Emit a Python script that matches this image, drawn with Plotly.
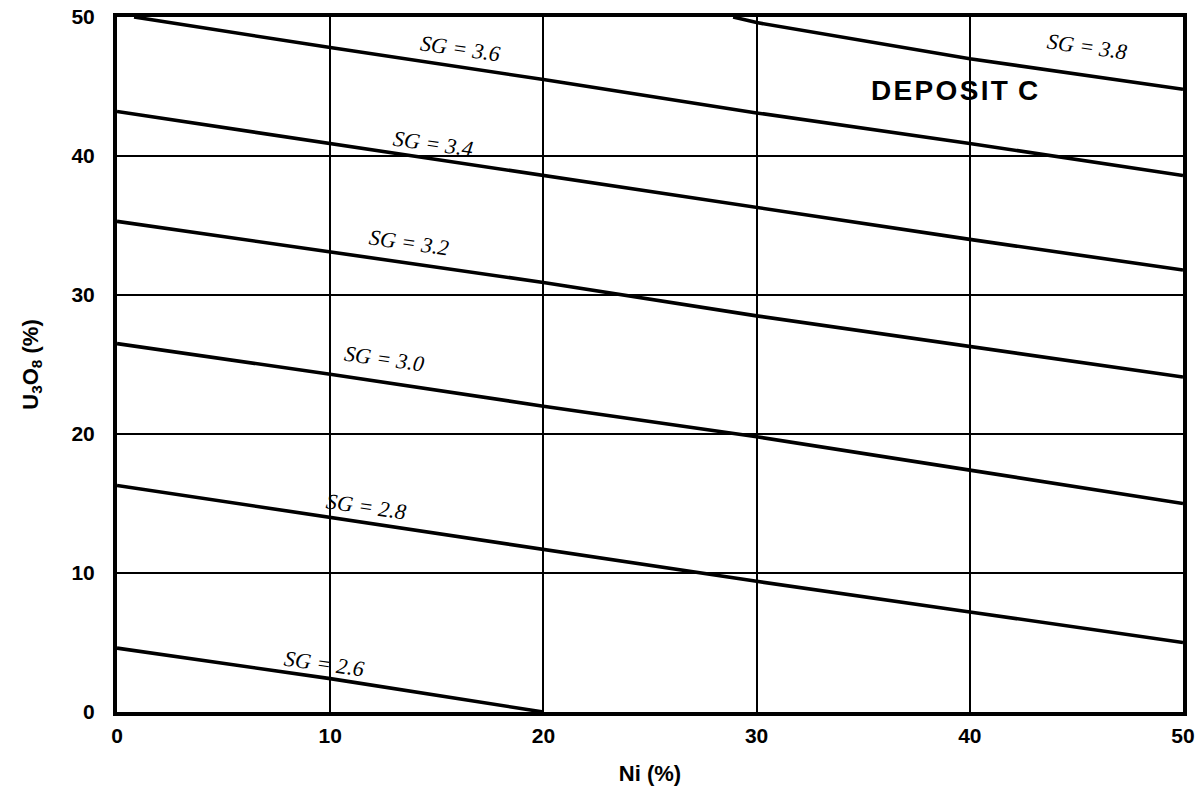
import plotly.graph_objects as go

# Data (Ni % vs U3O8 % for constant specific gravity)
sg_26_x = [0, 10, 20]
sg_26_y = [4.6, 2.4, 0.0]

sg_28_x = [0, 10, 20, 30, 40, 50]
sg_28_y = [16.3, 14.0, 11.7, 9.4, 7.2, 5.0]

sg_30_x = [0, 10, 20, 30, 40, 50]
sg_30_y = [26.5, 24.3, 22.0, 19.8, 17.4, 15.0]

sg_32_x = [0, 10, 20, 30, 40, 50]
sg_32_y = [35.3, 33.1, 30.9, 28.5, 26.3, 24.1]

sg_34_x = [0, 10, 20, 30, 40, 50]
sg_34_y = [43.2, 40.9, 38.6, 36.3, 34.0, 31.8]

sg_36_x = [0.8, 10, 20, 30, 40, 50]
sg_36_y = [50.0, 47.8, 45.5, 43.1, 40.9, 38.6]

sg_38_x = [28.9, 30, 40, 50]
sg_38_y = [50.0, 49.6, 47.0, 44.8]

series = [
    ("SG = 2.6", sg_26_x, sg_26_y),
    ("SG = 2.8", sg_28_x, sg_28_y),
    ("SG = 3.0", sg_30_x, sg_30_y),
    ("SG = 3.2", sg_32_x, sg_32_y),
    ("SG = 3.4", sg_34_x, sg_34_y),
    ("SG = 3.6", sg_36_x, sg_36_y),
    ("SG = 3.8", sg_38_x, sg_38_y),
]

# Label anchor positions (data coords)
label_text = ["SG = 2.6", "SG = 2.8", "SG = 3.0", "SG = 3.2", "SG = 3.4", "SG = 3.6", "SG = 3.8"]
label_x = [9.7, 11.7, 12.5, 13.7, 14.8, 16.1, 45.5]
label_y = [3.5, 14.8, 25.4, 33.8, 40.9, 47.7, 47.9]

x_ticks = [0, 10, 20, 30, 40, 50]
y_ticks = [0, 10, 20, 30, 40, 50]

fig = go.Figure()
for name, xs, ys in series:
    fig.add_trace(go.Scatter(x=xs, y=ys, mode="lines", name=name,
                             line=dict(color="black", width=3.6),
                             showlegend=False, hoverinfo="skip", cliponaxis=False))

for t, lx, ly in zip(label_text, label_x, label_y):
    fig.add_annotation(x=lx, y=ly, text=t, showarrow=False, textangle=8,
                       font=dict(family="Liberation Serif", size=22, color="black",
                                 style="italic"))

hs = "\u200a"
deposit_text = "<b>" + hs.join("DEPOSIT") + " " + hs + "C</b>"
fig.add_annotation(x=39.3, y=44.7, text=deposit_text, showarrow=False,
                   font=dict(family="Liberation Sans", size=28, color="black"))

axis_common = dict(
    showgrid=True, gridcolor="black", gridwidth=1.6,
    showline=True, linecolor="black", linewidth=4, mirror=True,
    zeroline=False, ticks="", automargin=False, ticklabeloverflow="allow",
    tickfont=dict(family="Liberation Sans", size=21, color="black", weight="bold"),
)

fig.update_xaxes(range=[0, 50], tickvals=x_ticks, ticklabelstandoff=2,
                 title=dict(text="<b>Ni (%)</b>", standoff=20,
                            font=dict(family="Liberation Sans", size=22, color="black")),
                 **axis_common)
fig.update_yaxes(range=[0, 50], tickvals=y_ticks, ticklabelstandoff=14,
                 title=dict(text="<b>U<sub>3</sub>O<sub>8</sub> (%)</b>", standoff=28,
                            font=dict(family="Liberation Sans", size=22, color="black")),
                 **axis_common)

fig.update_layout(
    width=1201, height=805,
    margin=dict(l=117, r=18, t=17, b=93),
    paper_bgcolor="white", plot_bgcolor="white",
)

# remove the default 8px page margin so the figure fills the window exactly
fig.write_html("out.html", config={"displayModeBar": False},
               post_script="document.body.style.margin='0';")
